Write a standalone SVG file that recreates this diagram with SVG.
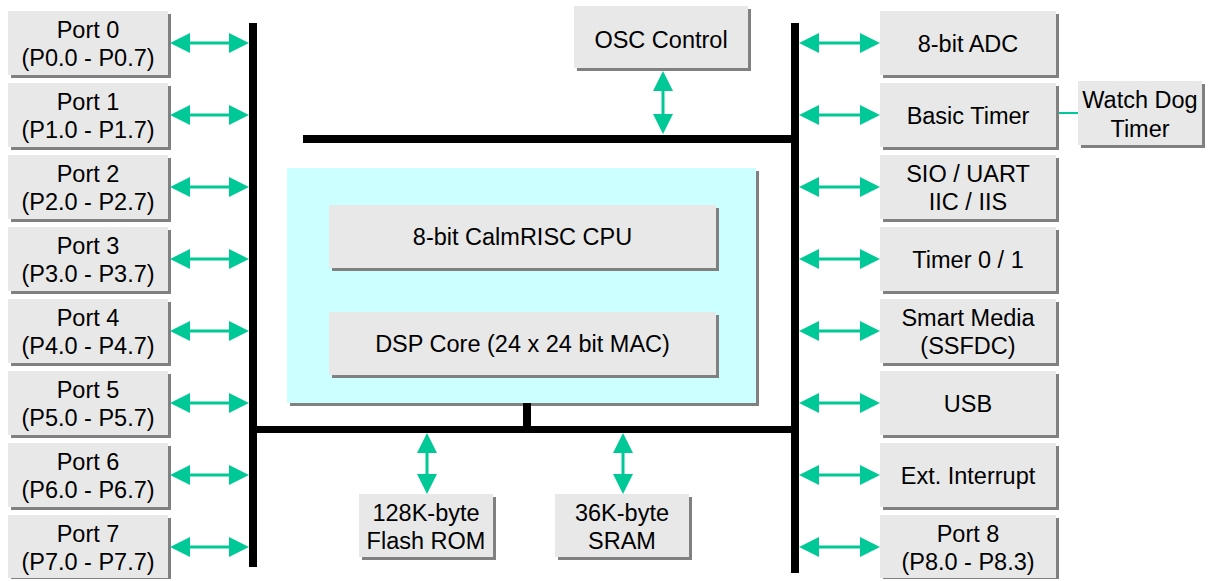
<svg xmlns="http://www.w3.org/2000/svg" width="1212" height="581" viewBox="0 0 1212 581">
<style>
.box{fill:#E8E8E8}
.sh{fill:#808080}
.t{font-family:"Liberation Sans",Arial,sans-serif;font-size:23.5px;fill:#000;text-anchor:middle}
.bus{fill:#000}
.ar{stroke:#00C896;stroke-width:3;fill:none;marker-start:url(#ah);marker-end:url(#ah)}
</style>
<defs>
<marker id="ah" markerUnits="userSpaceOnUse" markerWidth="20" markerHeight="20" refX="16" refY="10" orient="auto-start-reverse" viewBox="0 0 20 20">
<path d="M0,0 L20,10 L0,20 z" fill="#00C896"/>
</marker>
</defs>
<rect width="1212" height="581" fill="#fff"/>

<g id="cpu-block">
<rect class="sh" x="290" y="171" width="469" height="235"/>
<rect x="287" y="168" width="469" height="235" fill="#CCFFFF"/>
</g>
<g id="cpu">
<rect class="sh" x="332" y="208" width="387" height="63"/>
<rect class="box" x="329" y="205" width="387" height="63"/>
<text class="t" x="522.5" y="245">8-bit CalmRISC CPU</text>
</g>
<g id="dsp">
<rect class="sh" x="332" y="315" width="387" height="63"/>
<rect class="box" x="329" y="312" width="387" height="63"/>
<text class="t" x="522.5" y="352">DSP Core (24 x 24 bit MAC)</text>
</g>

<g id="buses">
<rect class="bus" x="249" y="23" width="8" height="544"/>
<rect class="bus" x="791" y="23" width="8" height="550"/>
<rect class="bus" x="303" y="135" width="492" height="8"/>
<rect class="bus" x="253" y="426" width="542" height="7"/>
<rect class="bus" x="523" y="403" width="8" height="26"/>
</g>

<g id="port0"><rect class="sh" x="11" y="14" width="160" height="64"/><rect class="box" x="8" y="11" width="160" height="64"/><text class="t" x="88" y="38">Port 0</text><text class="t" x="88" y="66">(P0.0 - P0.7)</text></g>
<g id="port1"><rect class="sh" x="11" y="86" width="160" height="64"/><rect class="box" x="8" y="83" width="160" height="64"/><text class="t" x="88" y="110">Port 1</text><text class="t" x="88" y="138">(P1.0 - P1.7)</text></g>
<g id="port2"><rect class="sh" x="11" y="158" width="160" height="64"/><rect class="box" x="8" y="155" width="160" height="64"/><text class="t" x="88" y="182">Port 2</text><text class="t" x="88" y="210">(P2.0 - P2.7)</text></g>
<g id="port3"><rect class="sh" x="11" y="230" width="160" height="64"/><rect class="box" x="8" y="227" width="160" height="64"/><text class="t" x="88" y="254">Port 3</text><text class="t" x="88" y="282">(P3.0 - P3.7)</text></g>
<g id="port4"><rect class="sh" x="11" y="302" width="160" height="64"/><rect class="box" x="8" y="299" width="160" height="64"/><text class="t" x="88" y="326">Port 4</text><text class="t" x="88" y="354">(P4.0 - P4.7)</text></g>
<g id="port5"><rect class="sh" x="11" y="374" width="160" height="64"/><rect class="box" x="8" y="371" width="160" height="64"/><text class="t" x="88" y="398">Port 5</text><text class="t" x="88" y="426">(P5.0 - P5.7)</text></g>
<g id="port6"><rect class="sh" x="11" y="446" width="160" height="64"/><rect class="box" x="8" y="443" width="160" height="64"/><text class="t" x="88" y="470">Port 6</text><text class="t" x="88" y="498">(P6.0 - P6.7)</text></g>
<g id="port7"><rect class="sh" x="11" y="518" width="160" height="61"/><rect class="box" x="8" y="515" width="160" height="63"/><text class="t" x="88" y="542">Port 7</text><text class="t" x="88" y="570">(P7.0 - P7.7)</text></g>

<g id="adc"><rect class="sh" x="883" y="14" width="176" height="64"/><rect class="box" x="880" y="11" width="176" height="64"/><text class="t" x="968" y="52">8-bit ADC</text></g>
<g id="basic-timer"><rect class="sh" x="883" y="86" width="176" height="64"/><rect class="box" x="880" y="83" width="176" height="64"/><text class="t" x="968" y="124">Basic Timer</text></g>
<g id="sio"><rect class="sh" x="883" y="158" width="176" height="64"/><rect class="box" x="880" y="155" width="176" height="64"/><text class="t" x="968" y="182">SIO / UART</text><text class="t" x="968" y="210">IIC / IIS</text></g>
<g id="timer01"><rect class="sh" x="883" y="230" width="176" height="64"/><rect class="box" x="880" y="227" width="176" height="64"/><text class="t" x="968" y="268">Timer 0 / 1</text></g>
<g id="smart-media"><rect class="sh" x="883" y="302" width="176" height="64"/><rect class="box" x="880" y="299" width="176" height="64"/><text class="t" x="968" y="326">Smart Media</text><text class="t" x="968" y="354">(SSFDC)</text></g>
<g id="usb"><rect class="sh" x="883" y="374" width="176" height="64"/><rect class="box" x="880" y="371" width="176" height="64"/><text class="t" x="968" y="412">USB</text></g>
<g id="ext-int"><rect class="sh" x="883" y="446" width="176" height="64"/><rect class="box" x="880" y="443" width="176" height="64"/><text class="t" x="968" y="484">Ext. Interrupt</text></g>
<g id="port8"><rect class="sh" x="883" y="518" width="176" height="61"/><rect class="box" x="880" y="515" width="176" height="63"/><text class="t" x="968" y="542">Port 8</text><text class="t" x="968" y="570">(P8.0 - P8.3)</text></g>

<g id="watchdog"><rect class="sh" x="1081" y="84" width="124" height="64"/><rect class="box" x="1078" y="81" width="124" height="64"/><text class="t" x="1140" y="108">Watch Dog</text><text class="t" x="1140" y="137">Timer</text></g>
<g id="osc"><rect class="sh" x="577" y="9" width="174" height="62"/><rect class="box" x="574" y="6" width="174" height="62"/><text class="t" x="661" y="48">OSC Control</text></g>
<g id="flash"><rect class="sh" x="362" y="497" width="134" height="63"/><rect class="box" x="359" y="494" width="134" height="63"/><text class="t" x="426" y="521">128K-byte</text><text class="t" x="426" y="549">Flash ROM</text></g>
<g id="sram"><rect class="sh" x="558" y="497" width="134" height="63"/><rect class="box" x="555" y="494" width="134" height="63"/><text class="t" x="622" y="521">36K-byte</text><text class="t" x="622" y="549">SRAM</text></g>

<g id="connectors">
<line class="ar" x1="174" y1="43" x2="245" y2="43"/>
<line class="ar" x1="174" y1="115" x2="245" y2="115"/>
<line class="ar" x1="174" y1="187" x2="245" y2="187"/>
<line class="ar" x1="174" y1="259" x2="245" y2="259"/>
<line class="ar" x1="174" y1="331" x2="245" y2="331"/>
<line class="ar" x1="174" y1="403" x2="245" y2="403"/>
<line class="ar" x1="174" y1="475" x2="245" y2="475"/>
<line class="ar" x1="174" y1="547" x2="245" y2="547"/>
<line class="ar" x1="803" y1="43" x2="876" y2="43"/>
<line class="ar" x1="803" y1="115" x2="876" y2="115"/>
<line class="ar" x1="803" y1="187" x2="876" y2="187"/>
<line class="ar" x1="803" y1="259" x2="876" y2="259"/>
<line class="ar" x1="803" y1="331" x2="876" y2="331"/>
<line class="ar" x1="803" y1="403" x2="876" y2="403"/>
<line class="ar" x1="803" y1="475" x2="876" y2="475"/>
<line class="ar" x1="803" y1="547" x2="876" y2="547"/>
<line class="ar" x1="663" y1="75" x2="663" y2="130"/>
<line class="ar" x1="427" y1="437" x2="427" y2="490"/>
<line class="ar" x1="623" y1="437" x2="623" y2="490"/>
<line x1="1059" y1="113" x2="1078" y2="113" stroke="#00C896" stroke-width="2"/>
</g>
</svg>
